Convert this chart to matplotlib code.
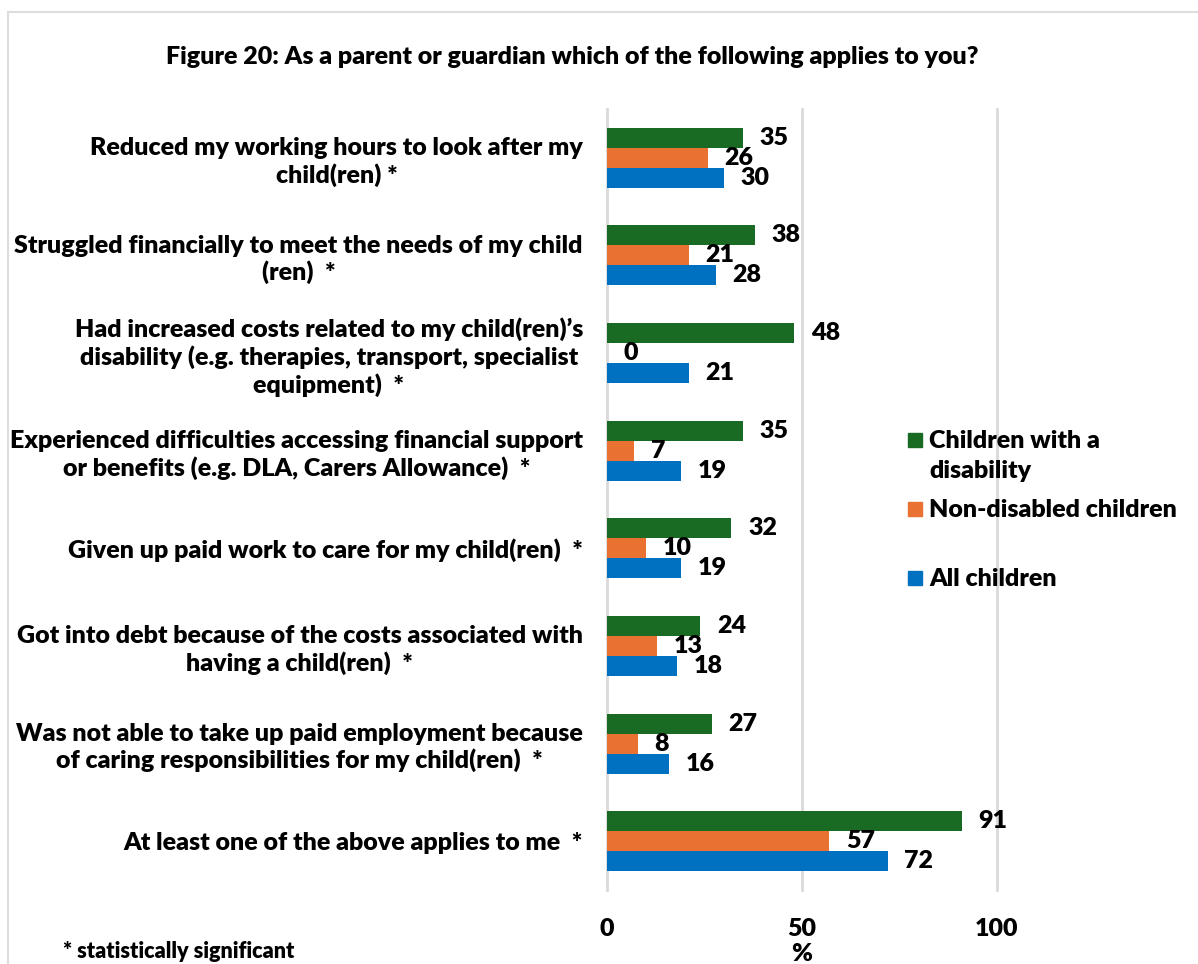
import matplotlib.pyplot as plt
from matplotlib.patches import Rectangle
import numpy as np

plt.rcParams['font.family'] = ['Lato', 'DejaVu Sans']
plt.rcParams['font.weight'] = 'heavy'

categories = [
    "Reduced my working hours to look after my\nchild(ren) *",
    "Struggled financially to meet the needs of my child\n(ren)  *",
    "Had increased costs related to my child(ren)\u2019s\ndisability (e.g. therapies, transport, specialist\nequipment)  *",
    "Experienced difficulties accessing financial support\nor benefits (e.g. DLA, Carers Allowance)  *",
    "Given up paid work to care for my child(ren)  *",
    "Got into debt because of the costs associated with\nhaving a child(ren)  *",
    "Was not able to take up paid employment because\nof caring responsibilities for my child(ren)  *",
    "At least one of the above applies to me  *",
]
disabled = [35, 38, 48, 35, 32, 24, 27, 91]
non_disabled = [26, 21, 0, 7, 10, 13, 8, 57]
all_children = [30, 28, 21, 19, 19, 18, 16, 72]

series = [
    ("Children with a\ndisability", disabled, "#196B24"),
    ("Non-disabled children", non_disabled, "#E97132"),
    ("All children", all_children, "#0070C0"),
]

FS = 18

fig = plt.figure(figsize=(11.98, 9.64), dpi=100)
ax = fig.add_axes([0.5063, 0.0768, 0.3259, 0.8101])

y = np.arange(len(categories))
h = 0.205
for i, (name, vals, col) in enumerate(series):
    pos = y + (i - 1) * h
    bars = ax.barh(pos, vals, height=h, color=col, edgecolor='none')
    for b, v in zip(bars, vals):
        ax.annotate(str(v), (v, b.get_y() + h / 2), xytext=(12, 0),
                    textcoords='offset points', va='center', ha='left',
                    fontsize=FS, fontweight='heavy')

ax.set_ylim(len(categories) - 0.5, -0.5)
ax.set_xlim(0, 100)
ax.set_xticks([0, 50, 100])
ax.set_yticks(y)
ax.set_yticklabels(categories, fontsize=FS, fontweight='heavy', multialignment='center')
ax.tick_params(axis='y', length=0, pad=17)
ax.tick_params(axis='x', length=0, pad=20, labelsize=FS)
ax.set_xlabel('%', fontsize=FS, fontweight='heavy', labelpad=2)
for s in ax.spines.values():
    s.set_visible(False)
ax.xaxis.grid(True, color='#D9D9D9', linewidth=2)
for gl in ax.get_xgridlines():
    gl.set_clip_on(False)
ax.set_axisbelow(True)

# legend entries placed by hand
W, H = 1198, 964
legend_rows = [(441, ["Children with a", "disability"], "#196B24"),
               (510, ["Non-disabled children"], "#E97132"),
               (579, ["All children"], "#0070C0")]
for ypx, lines, col in legend_rows:
    fig.patches.append(Rectangle((908 / W, 1 - (ypx + 6) / H), 14 / W, 14 / H,
                                 transform=fig.transFigure, color=col))
    for k, line in enumerate(lines):
        fig.text(929 / W, 1 - (ypx + 30 * k) / H, line, fontsize=FS,
                 fontweight='heavy', va='center')

fig.text(572 / W, 1 - 57 / H,
         "Figure 20: As a parent or guardian which of the following applies to you?",
         ha='center', va='center', fontsize=FS, fontweight='heavy')
fig.text(63 / W, 1 - 951 / H, "* statistically significant",
         ha='left', va='center', fontsize=15.6, fontweight='heavy')

# chart frame: only the top and left edges fall inside the image
fig.patches.append(Rectangle((8 / W, -0.05), 1.1, 1.05 - 12 / H,
                             transform=fig.transFigure, fill=False,
                             edgecolor='#DDDDDD', linewidth=1.5))

fig.savefig('out.png', dpi=100)
